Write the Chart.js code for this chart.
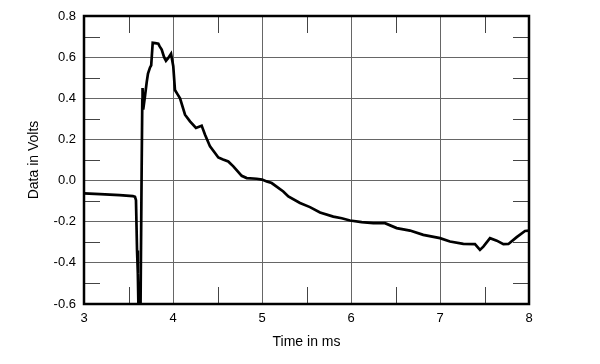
<!DOCTYPE html>
<html>
<head>
<meta charset="utf-8">
<script src="https://cdn.jsdelivr.net/npm/chart.js@4.4.0/dist/chart.umd.min.js"></script>
<style>
  html, body { margin: 0; padding: 0; background: #fff; }
</style>
</head>
<body>
<canvas id="myChart" width="600" height="364"></canvas>
<script>
const timeMs = [3.0, 3.18, 3.4, 3.55, 3.573, 3.584, 3.596, 3.605, 3.612, 3.624, 3.635,
    3.648, 3.655, 3.658, 3.665, 3.685, 3.705, 3.719, 3.742, 3.755, 3.772, 3.8, 3.835,
    3.85, 3.873, 3.9, 3.921, 3.947, 3.978, 4.003, 4.022, 4.05, 4.079, 4.135, 4.191,
    4.258, 4.322, 4.36, 4.416, 4.472, 4.509, 4.562, 4.621, 4.678, 4.772, 4.828, 4.94,
    5.0, 5.053, 5.109, 5.239, 5.296, 5.427, 5.539, 5.652, 5.801, 5.896, 5.989, 6.12,
    6.251, 6.382, 6.513, 6.663, 6.812, 7.0, 7.112, 7.262, 7.393, 7.449, 7.487, 7.562,
    7.638, 7.712, 7.769, 7.862, 7.955, 8.0];
const volts = [-0.062, -0.066, -0.071, -0.076, -0.079, -0.095, -0.34, -0.45, -0.62, -0.65, -0.62,
    0.07, 0.39, 0.45, 0.345, 0.41, 0.48, 0.52, 0.55, 0.56, 0.67, 0.668, 0.665,
    0.652, 0.637, 0.6, 0.582, 0.596, 0.616, 0.556, 0.44, 0.42, 0.40, 0.32, 0.288,
    0.256, 0.267, 0.223, 0.166, 0.134, 0.112, 0.102, 0.093, 0.069, 0.023, 0.012, 0.009,
    0.005, -0.004, -0.012, -0.053, -0.077, -0.109, -0.129, -0.155, -0.175, -0.183, -0.194, -0.202,
    -0.207, -0.207, -0.231, -0.243, -0.264, -0.28, -0.296, -0.308, -0.309, -0.337, -0.321, -0.28,
    -0.292, -0.309, -0.308, -0.275, -0.245, -0.243];

const xTicks = [3, 4, 5, 6, 7, 8];
const yTicks = [-0.6, -0.4, -0.2, 0.0, 0.2, 0.4, 0.6, 0.8];
const xMinor = [3.5, 4.5, 5.5, 6.5, 7.5];
const yMinor = [-0.5, -0.3, -0.1, 0.1, 0.3, 0.5, 0.7];

const TICK_FONT = { family: "'Liberation Sans', Arial, sans-serif", size: 13 };
const TITLE_FONT = { family: "'Liberation Sans', Arial, sans-serif", size: 14 };

let points = [];
for (let i = 0; i < timeMs.length; i++) {
    points.push({ x: timeMs[i], y: volts[i] });
}

// frame + short minor ticks on all four sides
const framePlugin = {
    id: 'frame',
    afterDraw(chart) {
        const ctx = chart.ctx;
        const a = chart.chartArea;
        const xs = chart.scales.x, ys = chart.scales.y;
        ctx.save();
        ctx.strokeStyle = '#444';
        ctx.lineWidth = 1;
        ctx.beginPath();
        xMinor.forEach(v => {
            const px = Math.round(xs.getPixelForValue(v)) + 0.5;
            ctx.moveTo(px, a.top); ctx.lineTo(px, a.top + 17);
            ctx.moveTo(px, a.bottom); ctx.lineTo(px, a.bottom - 17);
        });
        yMinor.forEach(v => {
            const py = Math.round(ys.getPixelForValue(v)) + 0.5;
            ctx.moveTo(a.left, py); ctx.lineTo(a.left + 16, py);
            ctx.moveTo(a.right, py); ctx.lineTo(a.right - 16, py);
        });
        ctx.stroke();
        ctx.strokeStyle = '#000';
        ctx.lineWidth = 2.5;
        ctx.strokeRect(a.left, a.top, a.right - a.left, a.bottom - a.top);
        ctx.restore();
    }
};

const config = {
    type: 'line',
    data: {
        datasets: [{
            data: points,
            borderColor: '#000',
            borderWidth: 2.7,
            pointRadius: 0,
            tension: 0,
            fill: false
        }]
    },
    options: {
        responsive: false,
        animation: false,
        layout: { padding: { top: 16, right: 71, bottom: 8, left: 0 } },
        plugins: {
            legend: { display: false },
            tooltip: { enabled: false }
        },
        scales: {
            x: {
                type: 'linear',
                min: 3,
                max: 8,
                afterFit: s => { s.height = 52; },
                afterBuildTicks: s => { s.ticks = xTicks.map(v => ({ value: v })); },
                ticks: { font: TICK_FONT, color: '#000', padding: 7, callback: v => String(v) },
                grid: { color: '#666', lineWidth: 1, drawTicks: false },
                border: { display: false },
                title: { display: true, text: 'Time in ms', font: TITLE_FONT, color: '#000', padding: { top: 0, bottom: 5 } }
            },
            y: {
                min: -0.6,
                max: 0.8,
                afterFit: s => { s.width = 84; },
                afterBuildTicks: s => { s.ticks = yTicks.map(v => ({ value: v })); },
                ticks: { font: TICK_FONT, color: '#000', padding: 8, callback: v => v.toFixed(1) },
                grid: { color: '#666', lineWidth: 1, drawTicks: false },
                border: { display: false },
                title: { display: true, text: 'Data in Volts', font: TITLE_FONT, color: '#000', padding: { top: 26, bottom: 0 } }
            }
        }
    },
    plugins: [framePlugin]
};

var myChart = new Chart(document.getElementById('myChart'), config);
</script>
</body>
</html>
